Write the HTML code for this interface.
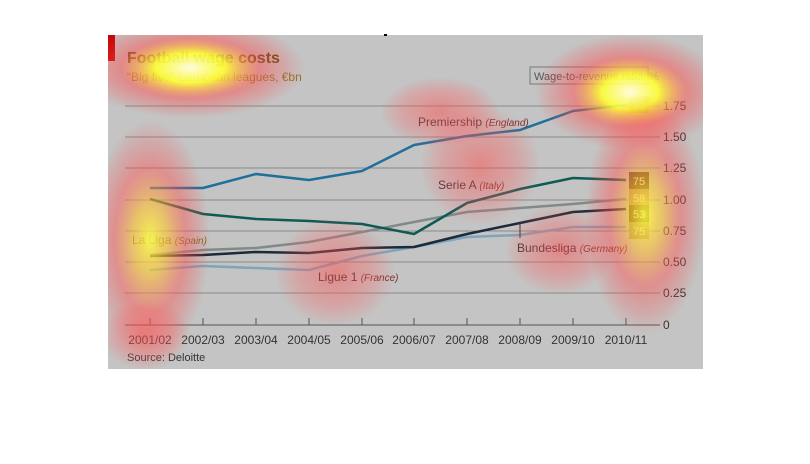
<!DOCTYPE html>
<html><head><meta charset="utf-8"><style>
html,body{margin:0;padding:0;background:#fff;}
svg{display:block;font-family:"Liberation Sans Narrow","Liberation Sans",sans-serif;}
</style></head><body>
<svg width="810" height="464" viewBox="0 0 810 464" xmlns="http://www.w3.org/2000/svg">
<defs>
<clipPath id="cp"><rect x="108" y="35" width="595" height="334"/></clipPath>
<radialGradient id="hy"><stop offset="0" stop-color="#fffbe0" stop-opacity="1"/><stop offset="0.3" stop-color="#ffff30" stop-opacity="0.9"/><stop offset="0.6" stop-color="#ff5050" stop-opacity="0.5"/><stop offset="1" stop-color="#ff4040" stop-opacity="0"/></radialGradient>
<radialGradient id="hy2"><stop offset="0" stop-color="#ffff40" stop-opacity="0.85"/><stop offset="0.3" stop-color="#ffc030" stop-opacity="0.6"/><stop offset="0.6" stop-color="#ff5050" stop-opacity="0.45"/><stop offset="1" stop-color="#ff4040" stop-opacity="0"/></radialGradient>
<radialGradient id="hr"><stop offset="0" stop-color="#ff4a4a" stop-opacity="0.5"/><stop offset="0.6" stop-color="#ff5a5a" stop-opacity="0.3"/><stop offset="1" stop-color="#ff5050" stop-opacity="0"/></radialGradient>
</defs>
<rect x="108" y="35" width="595" height="334" fill="#c4c4c4"/>
<rect x="108" y="35" width="7" height="26" fill="#c00000"/>
<rect x="384" y="34" width="3" height="2" fill="#000"/>
<g stroke="#8a8a8a" stroke-width="1">
<line x1="125" y1="106" x2="660" y2="106"/><line x1="125" y1="137" x2="660" y2="137"/>
<line x1="125" y1="168" x2="660" y2="168"/><line x1="125" y1="200" x2="660" y2="200"/>
<line x1="125" y1="231" x2="660" y2="231"/><line x1="125" y1="262" x2="660" y2="262"/>
<line x1="125" y1="293" x2="660" y2="293"/>
</g>
<line x1="125" y1="325" x2="660" y2="325" stroke="#555" stroke-width="1"/>
<g stroke="#555"><line x1="150" y1="318" x2="150" y2="325"/><line x1="203" y1="318" x2="203" y2="325"/><line x1="256" y1="318" x2="256" y2="325"/><line x1="309" y1="318" x2="309" y2="325"/><line x1="362" y1="318" x2="362" y2="325"/><line x1="414" y1="318" x2="414" y2="325"/><line x1="467" y1="318" x2="467" y2="325"/><line x1="520" y1="318" x2="520" y2="325"/><line x1="573" y1="318" x2="573" y2="325"/><line x1="626" y1="318" x2="626" y2="325"/></g>
<g font-size="12" fill="#333">
<text x="663" y="110">1.75</text><text x="663" y="141">1.50</text><text x="663" y="172">1.25</text><text x="663" y="204">1.00</text><text x="663" y="235">0.75</text><text x="663" y="266">0.50</text><text x="663" y="297">0.25</text><text x="663" y="329">0</text>
</g>
<g font-size="12" fill="#333" text-anchor="middle">
<text x="150" y="344">2001/02</text><text x="203" y="344">2002/03</text><text x="256" y="344">2003/04</text><text x="309" y="344">2004/05</text><text x="362" y="344">2005/06</text><text x="414" y="344">2006/07</text><text x="467" y="344">2007/08</text><text x="520" y="344">2008/09</text><text x="573" y="344">2009/10</text><text x="626" y="344">2010/11</text>
</g>
<text x="127" y="361" font-size="11" fill="#333">Source: Deloitte</text>
<g fill="none" stroke-width="2.5" stroke-linejoin="round">
<polyline stroke="#7fa4bb" points="150,270 203,266 256,268 309,270 362,256 414,247 467,237 520,235 573,227 626,227"/>
<polyline stroke="#808a88" points="150,255 203,250 256,248 309,242 362,232 414,222 467,212 520,208 573,204 626,199"/>
<polyline stroke="#1d2a3a" points="150,256 203,255 256,252 309,253 362,248 414,247 467,234 520,223 573,212 626,209"/>
<polyline stroke="#0f5a55" points="150,199 203,214 256,219 309,221 362,224 414,234 467,203 520,189 573,178 626,180"/>
<polyline stroke="#1f6f9a" points="150,188 203,188 256,174 309,180 362,171 414,145 467,136 520,130 573,111 626,105"/>
</g>
<line x1="520" y1="223" x2="520" y2="238" stroke="#333"/>
<g font-size="12" fill="#333">
<text x="418" y="126">Premiership <tspan font-style="italic" font-size="10" fill="#7a3030">(England)</tspan></text>
<text x="438" y="189">Serie A <tspan font-style="italic" font-size="10" fill="#7a3030">(Italy)</tspan></text>
<text x="517" y="252">Bundesliga <tspan font-style="italic" font-size="10" fill="#7a3030">(Germany)</tspan></text>
<text x="318" y="281">Ligue 1 <tspan font-style="italic" font-size="10" fill="#7a3030">(France)</tspan></text>
<text x="132" y="244" fill="#7a6a20">La Liga <tspan font-style="italic" font-size="10">(Spain)</tspan></text>
</g>
<rect x="530" y="67" width="118" height="17" fill="none" stroke="#777"/>
<text x="534" y="80" font-size="11" fill="#555">Wage-to-revenue ratio, %</text>
<g font-size="11" fill="#eee" text-anchor="middle">
<rect x="629" y="96" width="20" height="17" fill="#8ab050"/><text x="639" y="109">70</text>
<rect x="629" y="172" width="20" height="17" fill="#5a3a28"/><text x="639" y="185">75</text>
<rect x="629" y="189" width="20" height="17" fill="#b08060"/><text x="639" y="202">58</text>
<rect x="629" y="205" width="20" height="17" fill="#5a4518"/><text x="639" y="218">53</text>
<rect x="629" y="222" width="20" height="17" fill="#a09060"/><text x="639" y="235">75</text>
</g>
<text x="127" y="63" font-size="16" font-weight="bold" fill="#5a5010">Football wage costs</text>
<text x="127" y="81" font-size="12" fill="#8a7a20">“Big five” European leagues, €bn</text>
<g clip-path="url(#cp)">
<ellipse cx="190" cy="68" rx="115" ry="50" fill="url(#hy)"/>
<ellipse cx="630" cy="92" rx="95" ry="58" fill="url(#hy)"/>
<ellipse cx="150" cy="240" rx="60" ry="120" fill="url(#hy2)"/>
<ellipse cx="645" cy="215" rx="60" ry="120" fill="url(#hy2)"/>
<ellipse cx="335" cy="272" rx="60" ry="55" fill="url(#hr)"/>
<ellipse cx="480" cy="165" rx="60" ry="60" fill="url(#hr)"/>
<ellipse cx="440" cy="112" rx="60" ry="35" fill="url(#hr)"/>
<ellipse cx="560" cy="250" rx="55" ry="45" fill="url(#hr)"/>
<ellipse cx="145" cy="335" rx="45" ry="35" fill="url(#hr)"/>
</g>
</svg>
</body></html>
